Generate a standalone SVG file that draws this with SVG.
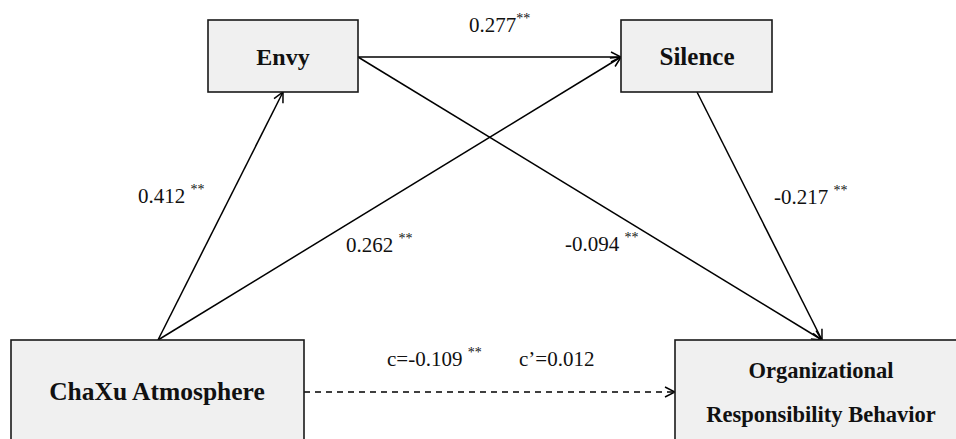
<svg xmlns="http://www.w3.org/2000/svg" width="956" height="439" viewBox="0 0 956 439">
  <style>
    .box { fill: #f0f0f0; stroke: #1a1a1a; stroke-width: 1.6; }
    .name { font-family: "Liberation Serif", "Times New Roman", serif; font-weight: bold; fill: #111; text-anchor: middle; }
    .coef { font-family: "Liberation Serif", "Times New Roman", serif; font-size: 21px; fill: #111; }
    .sig { font-size: 14px; }
    .edge { fill: none; stroke: #000; stroke-width: 1.5; marker-end: url(#arrow); }
    .dash { stroke-dasharray: 6 5; }
  </style>
  <defs>
    <marker id="arrow" viewBox="0 0 12 12" refX="11" refY="6" markerWidth="12" markerHeight="12" markerUnits="userSpaceOnUse" orient="auto">
      <path d="M1,1 L11,6 L1,11" fill="none" stroke="#000" stroke-width="1.5"/>
    </marker>
  </defs>
  <rect width="956" height="439" fill="#ffffff"/>

  <!-- paths between the four constructs -->
  <g id="connectors">
    <line class="edge" x1="358" y1="57" x2="621" y2="57"/>
    <line class="edge" x1="358" y1="57" x2="822" y2="340"/>
    <line class="edge" x1="697" y1="92" x2="822" y2="340"/>
    <line class="edge" x1="158" y1="340" x2="283" y2="92"/>
    <line class="edge" x1="158" y1="340" x2="621" y2="57"/>
    <line class="edge dash" x1="304" y1="392" x2="675" y2="392"/>
  </g>

  <g id="node-envy">
    <rect class="box" x="208" y="20" width="150" height="72"/>
    <text class="name" x="283" y="65" font-size="24">Envy</text>
  </g>
  <g id="node-silence">
    <rect class="box" x="621" y="20" width="151" height="72"/>
    <text class="name" x="697" y="65" font-size="25">Silence</text>
  </g>
  <g id="node-chaxu">
    <rect class="box" x="11" y="340" width="293" height="110"/>
    <text class="name" x="157" y="400" font-size="25.5">ChaXu Atmosphere</text>
  </g>
  <g id="node-orb">
    <rect class="box" x="675" y="340" width="292" height="110"/>
    <text class="name" x="821" y="378" font-size="22.5">Organizational</text>
    <text class="name" x="821" y="422" font-size="22.5">Responsibility Behavior</text>
  </g>

  <!-- path coefficients -->
  <g id="labels">
    <text class="coef" x="469" y="32">0.277<tspan class="sig" dy="-9">**</tspan></text>
    <text class="coef" x="138" y="203">0.412 <tspan class="sig" dy="-9">**</tspan></text>
    <text class="coef" x="346" y="252">0.262 <tspan class="sig" dy="-9">**</tspan></text>
    <text class="coef" x="565" y="251">-0.094 <tspan class="sig" dy="-9">**</tspan></text>
    <text class="coef" x="774" y="204">-0.217 <tspan class="sig" dy="-9">**</tspan></text>
    <text class="coef" x="387" y="366" font-size="22">c=-0.109 <tspan class="sig" dy="-9">**</tspan></text>
    <text class="coef" x="519" y="366" font-size="22">c’=0.012</text>
  </g>
</svg>
